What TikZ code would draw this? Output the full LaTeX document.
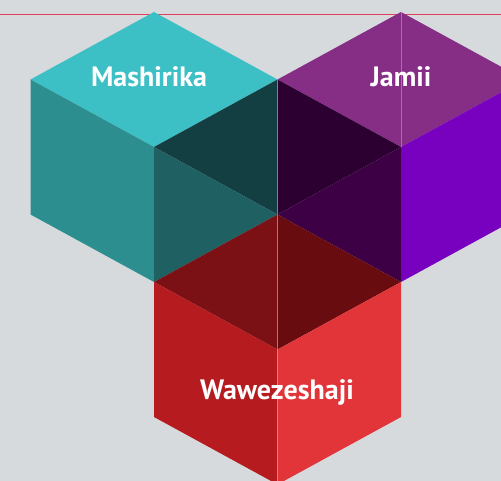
\documentclass[tikz,border=0pt]{standalone}
\usepackage{fontspec}
\setmainfont{PT Sans}
\definecolor{bgcol}{HTML}{D7DADC}
\definecolor{rulecol}{HTML}{E0405A}
\definecolor{tealtop}{HTML}{3DC0C5}
\definecolor{tealleft}{HTML}{2D8E8F}
\definecolor{tealdark}{HTML}{143F42}
\definecolor{tealmid}{HTML}{1F6162}
\definecolor{purptop}{HTML}{862D86}
\definecolor{purpright}{HTML}{7800BF}
\definecolor{purpdeep}{HTML}{2D0032}
\definecolor{purpdark}{HTML}{3D0044}
\definecolor{redleft}{HTML}{B51B1F}
\definecolor{redright}{HTML}{E13539}
\definecolor{redtopl}{HTML}{7B1114}
\definecolor{redtopr}{HTML}{690C10}
\tikzset{
  cubelabel/.style={text=white, anchor=base, inner sep=0pt, font=\bfseries\fontsize{28}{30}\selectfont},
  seam/.style={white, opacity=0.3, line width=0.6pt}
}
\begin{document}
\begin{tikzpicture}[x=1pt, y=-1pt, line join=round]
			\useasboundingbox (0,0) rectangle (501,481);
			\clip (0,0) rectangle (501,481);
			\fill[bgcol] (0,0) rectangle (501,481);
			\fill[rulecol] (0,14) rectangle (501,15.2);
			
			% Mashirika
			\fill[tealtop] (154,12) -- (277.5,79.5) -- (154,147) -- (30.5,79.5) -- cycle;
			\fill[tealleft] (30.5,79.5) -- (154,147) -- (154,282) -- (30.5,214.5) -- cycle;
			\fill[tealdark] (154,147) -- (277.5,79.5) -- (277.5,214.5) -- cycle;
			\fill[tealmid] (154,147) -- (277.5,214.5) -- (154,282) -- cycle;
			
			% Jamii
			\fill[purptop] (401,12) -- (524.5,79.5) -- (401,147) -- (277.5,79.5) -- cycle;
			\fill[purpdeep] (277.5,79.5) -- (401,147) -- (277.5,214.5) -- cycle;
			\fill[purpdark] (401,147) -- (401,282) -- (277.5,214.5) -- cycle;
			\fill[purpright] (401,147) -- (524.5,79.5) -- (524.5,214.5) -- (401,282) -- cycle;
			
			% Wawezeshaji
			\fill[redtopl] (154,282) -- (277.5,214.5) -- (277.5,349.5) -- cycle;
			\fill[redtopr] (277.5,214.5) -- (401,282) -- (277.5,349.5) -- cycle;
			\fill[redleft] (154,282) -- (277.5,349.5) -- (277.5,484.5) -- (154,417) -- cycle;
			\fill[redright] (277.5,349.5) -- (401,282) -- (401,417) -- (277.5,484.5) -- cycle;
			
			\draw[seam] (277.5,79.5) -- (277.5,484.5);
			\draw[seam] (401,12) -- (401,147);
			
			\node[cubelabel] (mashirika) at (149,87) {Mashirika};
			\node[cubelabel] (jamii) at (401,87) {Jamii};
			\node[cubelabel] (wawezeshaji) at (277,399) {Wawezeshaji};
			
		\end{tikzpicture}
\end{document}
